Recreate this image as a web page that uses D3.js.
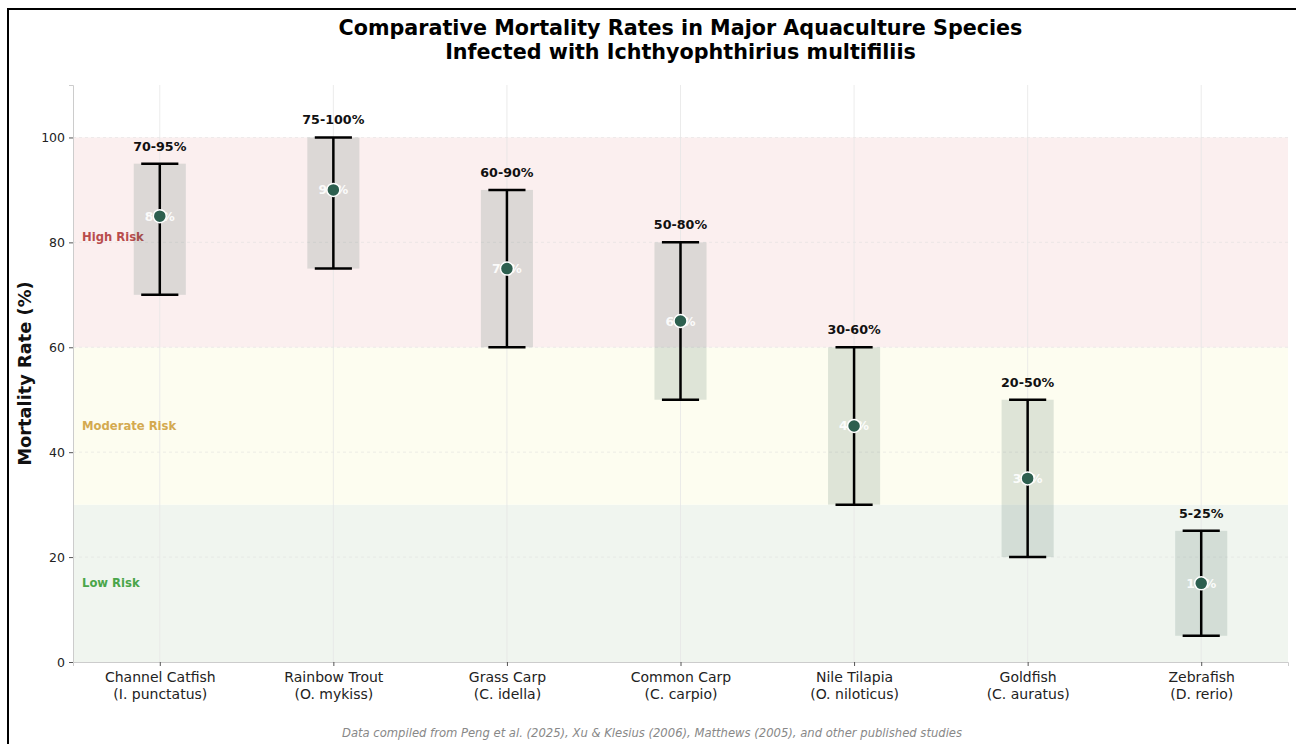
<!DOCTYPE html>
<html>
<head>
<meta charset="utf-8">
<script src="https://cdn.jsdelivr.net/npm/d3@7"></script>
<style>
  body { margin: 0; background: #fff; }
  svg { display: block; font-family: "DejaVu Sans", sans-serif; }
</style>
</head>
<body>
<div id="chart"></div>
<script>
// values
const species = ['Channel Catfish', 'Rainbow Trout', 'Grass Carp', 'Common Carp', 'Nile Tilapia', 'Goldfish', 'Zebrafish'];
const sciNames = ['(I. punctatus)', '(O. mykiss)', '(C. idella)', '(C. carpio)', '(O. niloticus)', '(C. auratus)', '(D. rerio)'];
const lowRates = [70, 75, 60, 50, 30, 20, 5];
const highRates = [95, 100, 90, 80, 60, 50, 25];
const meanRates = [85, 90, 75, 65, 45, 35, 15];
const yTicks = [0, 20, 40, 60, 80, 100];
const riskBands = [
    { name: 'Low Risk', from: 0, to: 30, labelAt: 15 },
    { name: 'Moderate Risk', from: 30, to: 60, labelAt: 45 },
    { name: 'High Risk', from: 60, to: 100, labelAt: 81 }
];

const W = 1296, H = 744;
const margin = { top: 85, right: 8, bottom: 82, left: 73 };
const bandFill = { 'Low Risk': '#f0f5ef', 'Moderate Risk': '#fdfdf0', 'High Risk': '#fbefef' };
const bandText = { 'Low Risk': '#4aa64a', 'Moderate Risk': '#d4aa50', 'High Risk': '#b94d4d' };

const svg = d3.select('#chart').append('svg').attr('width', W).attr('height', H);

const x = d3.scaleLinear().domain([-0.5, species.length - 0.5]).range([margin.left, W - margin.right]);
const y = d3.scaleLinear().domain([0, 110]).range([H - margin.bottom, margin.top]);

// risk bands
svg.selectAll('.band').data(riskBands).enter().append('rect')
    .attr('x', x(-0.5))
    .attr('width', x(species.length - 0.5) - x(-0.5))
    .attr('y', d => y(d.to))
    .attr('height', d => y(d.from) - y(d.to))
    .attr('fill', d => bandFill[d.name]);

// grid
svg.selectAll('.hgrid').data(yTicks.slice(1)).enter().append('line')
    .attr('x1', x(-0.5)).attr('x2', x(species.length - 0.5))
    .attr('y1', d => y(d)).attr('y2', d => y(d))
    .attr('stroke', '#ddd').attr('stroke-width', 0.8).attr('stroke-dasharray', '3,3').attr('opacity', 0.6);
svg.selectAll('.vgrid').data(species).enter().append('line')
    .attr('x1', (d, i) => x(i)).attr('x2', (d, i) => x(i))
    .attr('y1', y(0)).attr('y2', y(110))
    .attr('stroke', '#e6e6e6').attr('stroke-width', 0.8);

// band labels
svg.selectAll('.band-label').data(riskBands).enter().append('text')
    .attr('x', x(-0.5) + 9)
    .attr('y', d => y(d.labelAt))
    .attr('dy', '0.35em')
    .attr('font-size', 11.6).attr('font-weight', 'bold')
    .attr('fill', d => bandText[d.name])
    .text(d => d.name);

// axes
const yAxis = svg.append('g')
    .attr('transform', `translate(${x(-0.5)},0)`)
    .call(d3.axisLeft(y).tickValues(yTicks).tickSize(4).tickPadding(4));
yAxis.select('.domain').attr('stroke', '#ccc');
yAxis.selectAll('.tick line').attr('stroke', '#555');
yAxis.selectAll('.tick text').attr('font-size', 12.5).attr('fill', '#222').attr('font-family', 'DejaVu Sans');

const xAxis = svg.append('g')
    .attr('transform', `translate(0,${y(0)})`)
    .call(d3.axisBottom(x).tickValues(d3.range(species.length)).tickSize(4).tickFormat(''));
xAxis.select('.domain').attr('stroke', '#ccc');
xAxis.selectAll('.tick line').attr('stroke', '#555');
xAxis.selectAll('.tick').append('text')
    .attr('y', 20).attr('text-anchor', 'middle').attr('fill', '#222')
    .attr('font-size', 14).attr('font-family', 'DejaVu Sans')
    .text((d) => species[d]);
xAxis.selectAll('.tick').append('text')
    .attr('y', 37).attr('text-anchor', 'middle').attr('fill', '#222')
    .attr('font-size', 14).attr('font-family', 'DejaVu Sans')
    .text((d) => sciNames[d]);

// range boxes
const boxHalf = 0.15;
svg.selectAll('.box').data(species).enter().append('rect')
    .attr('x', (d, i) => x(i - boxHalf))
    .attr('width', x(boxHalf) - x(-boxHalf))
    .attr('y', (d, i) => y(highRates[i]))
    .attr('height', (d, i) => y(lowRates[i]) - y(highRates[i]))
    .attr('fill', '#2d5a4a').attr('opacity', 0.15);

// error bars
const capHalf = 0.107;
const bars = svg.selectAll('.bar').data(species).enter().append('g');
bars.append('line')
    .attr('x1', (d, i) => x(i)).attr('x2', (d, i) => x(i))
    .attr('y1', (d, i) => y(lowRates[i])).attr('y2', (d, i) => y(highRates[i]))
    .attr('stroke', '#000').attr('stroke-width', 2.5);
bars.append('line')
    .attr('x1', (d, i) => x(i - capHalf)).attr('x2', (d, i) => x(i + capHalf))
    .attr('y1', (d, i) => y(lowRates[i])).attr('y2', (d, i) => y(lowRates[i]))
    .attr('stroke', '#000').attr('stroke-width', 2.5);
bars.append('line')
    .attr('x1', (d, i) => x(i - capHalf)).attr('x2', (d, i) => x(i + capHalf))
    .attr('y1', (d, i) => y(highRates[i])).attr('y2', (d, i) => y(highRates[i]))
    .attr('stroke', '#000').attr('stroke-width', 2.5);

// mean labels (sit under the dots)
svg.selectAll('.mean-label').data(species).enter().append('text')
    .attr('x', (d, i) => x(i)).attr('y', (d, i) => y(meanRates[i]))
    .attr('dy', '0.36em').attr('text-anchor', 'middle')
    .attr('font-size', 12.5).attr('font-weight', 'bold').attr('fill', '#fff').attr('opacity', 0.9)
    .text((d, i) => meanRates[i] + '%');

// mean dots
svg.selectAll('.dot').data(species).enter().append('circle')
    .attr('cx', (d, i) => x(i)).attr('cy', (d, i) => y(meanRates[i]))
    .attr('r', 6.5)
    .attr('fill', '#2d5f4f').attr('stroke', '#fff').attr('stroke-width', 1.5);

// range labels
svg.selectAll('.range-label').data(species).enter().append('text')
    .attr('x', (d, i) => x(i)).attr('y', (d, i) => y(highRates[i]) - 13)
    .attr('text-anchor', 'middle')
    .attr('font-size', 12.7).attr('font-weight', 'bold').attr('fill', '#111')
    .text((d, i) => lowRates[i] + '-' + highRates[i] + '%');

// y label
svg.append('text')
    .attr('transform', `translate(31,${(y(0) + y(110)) / 2}) rotate(-90)`)
    .attr('text-anchor', 'middle')
    .attr('font-size', 17.8).attr('font-weight', 'bold').attr('fill', '#111')
    .text('Mortality Rate (%)');

// title
const cx = (x(-0.5) + x(species.length - 0.5)) / 2;
svg.append('text').attr('x', cx).attr('y', 35).attr('text-anchor', 'middle')
    .attr('font-size', 20.7).attr('font-weight', 'bold').attr('fill', '#000')
    .text('Comparative Mortality Rates in Major Aquaculture Species');
svg.append('text').attr('x', cx).attr('y', 59).attr('text-anchor', 'middle')
    .attr('font-size', 20.7).attr('font-weight', 'bold').attr('fill', '#000')
    .text('Infected with Ichthyophthirius multifiliis');

// source note
svg.append('text').attr('x', 652).attr('y', 737).attr('text-anchor', 'middle')
    .attr('font-size', 11.6).attr('font-style', 'italic').attr('fill', '#888')
    .text('Data compiled from Peng et al. (2025), Xu & Klesius (2006), Matthews (2005), and other published studies');

// figure frame
svg.append('rect').attr('x', 8).attr('y', 9).attr('width', W).attr('height', H)
    .attr('fill', 'none').attr('stroke', '#000').attr('stroke-width', 2);
</script>
</body>
</html>
